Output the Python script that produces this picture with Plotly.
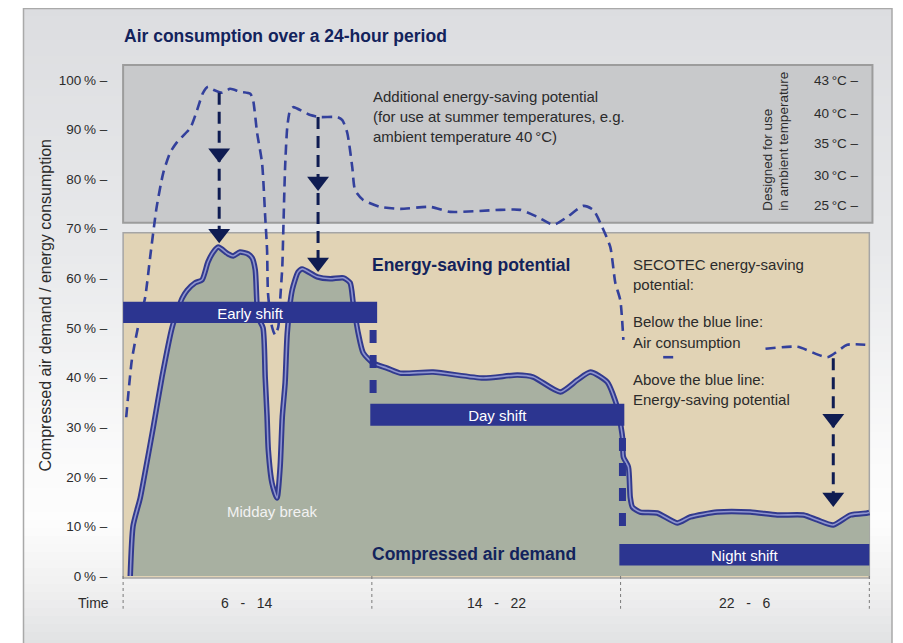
import plotly.graph_objects as go

# ---------------- data ----------------
hours_demand = [0.23, 0.32, 0.55, 0.68, 0.97, 1.25, 1.58, 1.90, 2.06, 2.32, 2.54, 2.73, 2.90, 3.06,
                3.38, 3.54, 3.76, 4.02, 4.15, 4.25, 4.34, 4.50, 4.57, 4.63, 4.67, 4.79, 4.95, 5.05,
                5.12, 5.21, 5.28, 5.44, 5.63, 5.76, 6.24, 6.66, 7.08, 7.30, 7.40, 7.56, 7.72, 8.04,
                8.49, 8.91, 9.97, 11.58, 12.68, 13.19, 14.06, 14.61, 15.03, 15.57, 15.89, 16.06,
                16.09, 16.25, 16.31, 16.38, 16.63, 17.18, 17.82, 18.24, 19.11, 20.17, 21.04, 21.88,
                22.33, 22.84, 23.39, 23.94, 24.0]
air_demand_pct = [0, 10.1, 15.7, 20.0, 30.0, 40.1, 50.2, 56.0, 57.6, 59.1, 59.7, 63.3, 65.3, 66.3,
                  64.9, 64.5, 65.3, 64.9, 64.1, 61.7, 52.2, 50.0, 40.1, 32.1, 25.4, 18.7, 15.7, 22.0,
                  32.1, 38.9, 49.0, 57.7, 61.3, 61.9, 60.3, 59.9, 60.1, 59.1, 55.0, 49.0, 45.0, 42.9,
                  41.9, 40.9, 41.1, 39.9, 40.5, 40.1, 37.1, 39.5, 41.1, 39.1, 34.1, 28.0,
                  24.0, 22.0, 15.9, 13.9, 12.9, 12.7, 10.7, 11.9, 12.9, 12.9, 12.3, 12.3,
                  11.3, 10.3, 12.3, 12.7, 12.8]

hours_40c = [0.10, 0.28, 0.48, 0.71, 0.87, 1.08, 1.29, 1.51, 1.74, 2.16, 2.38, 2.57, 2.73, 2.90,
             3.19, 3.44, 3.76, 4.09, 4.18, 4.31, 4.47, 4.57, 4.63, 4.66, 4.79, 4.89, 4.99, 5.05,
             5.12, 5.15, 5.21, 5.28, 5.37, 5.47, 6.02, 6.34, 6.89, 7.05, 7.21, 7.37, 7.46, 7.72,
             8.27, 8.91, 9.88, 10.52, 12.13, 12.77, 13.32, 13.84, 14.29, 14.80, 15.12, 15.41,
             15.67, 15.83, 15.99, 16.09, None, 17.37, 17.82, None, 20.66, 21.69, 22.65, 23.29, 23.87]
consumption_40c_pct = [32.0, 43.5, 50.2, 56.2, 64.3, 74.4, 81.2, 85.3, 87.5, 90.3, 93.9, 97.4, 98.6, 98.0,
                       97.4, 98.2, 97.6, 97.2, 95.9, 89.3, 83.2, 72.4, 65.7, 57.0, 50.2, 48.6, 50.2, 55.6,
                       62.3, 69.1, 82.4, 90.5, 93.9, 94.5, 92.9, 92.5, 92.5, 91.9, 89.3, 82.4, 77.8, 75.8,
                       74.4, 74.0, 74.4, 73.4, 73.8, 73.8, 72.4, 70.8, 72.4, 74.6, 73.8, 70.3,
                       66.3, 59.1, 55.6, 47.6, None, 44.1, 44.1, None, 45.8, 46.2, 44.1, 46.6, 46.6]

shift_names = ["Early shift", "Day shift", "Night shift"]
shift_start = [0.0, 7.95, 15.96]
shift_end = [8.17, 16.12, 24.0]
shift_bar_low = [51.0, 30.3, 2.1]
shift_bar_high = [55.3, 34.7, 6.45]

connector_hours = [8.04, 16.06]
connector_top = [49.6, 27.8]
connector_bottom = [36.1, 8.7]

time_separators = [0, 8, 16, 24]
time_label_hours = [4, 12, 20]
time_labels = ["6   -   14", "14   -   22", "22   -   6"]

arrow_hours = [3.09, 6.27, 22.84]
arrow_from = [97.4, 92.5, 43.9]
arrow_mid = [85.2, 79.5, 31.7]
arrow_to = [69.0, 63.2, 15.8]

y_ticks = [0, 10, 20, 30, 40, 50, 60, 70, 80, 90, 100]
y_tick_text = [f"{v}\u2009% –" for v in y_ticks]

temp_labels = ["43\u2009°C –", "40\u2009°C –", "35\u2009°C –", "30\u2009°C –", "25\u2009°C –"]
temp_pct = [99.8, 93.3, 87.1, 80.8, 74.6]

saving_zone = [71.2, 103.0]   # grey band (additional potential)
design_zone = [-0.4, 69.2]    # tan band

# ---------------- style ----------------
FONT = "Liberation Sans, Arial, sans-serif"
NAVY = "#13235c"
BAR = "#2c3590"
LINE = "#2e3a96"
ARROW = "#0f1c52"
TXT = "#2b2b2b"

OFF = 8                      # page body margin of the browser
W, H = 903 - OFF, 643 - OFF
PL, PR, PT, PB = 120, 874, 63, 610   # plot area in screen pixels


def px_x(px):
    return (px - PL) / (PR - PL)


def px_y(py):
    return (PB - py) / (PB - PT)


def hex2rgb(h):
    h = h.lstrip("#")
    return tuple(int(h[i:i + 2], 16) for i in (0, 2, 4))


stops = [(8, "#dcdde0"), (250, "#e8e9eb"), (450, "#fafafa"), (520, "#fdfdfd"), (585, "#f1f1f1"), (650, "#dfe0e2")]


def grad(py):
    for (a, ca), (b, cb) in zip(stops[:-1], stops[1:]):
        if a <= py <= b:
            t = (py - a) / (b - a)
            r1, g1, b1 = hex2rgb(ca)
            r2, g2, b2 = hex2rgb(cb)
            return "rgb(%d,%d,%d)" % (round(r1 + (r2 - r1) * t), round(g1 + (g2 - g1) * t), round(b1 + (b2 - b1) * t))
    return stops[-1][1]


shapes = []
band = 8
y = 8
while y < 650:
    shapes.append(dict(type="rect", xref="paper", yref="paper", layer="below",
                       x0=px_x(23), x1=px_x(892), y0=px_y(y + band + 0.5), y1=px_y(y),
                       fillcolor=grad(y + band / 2), line=dict(width=0)))
    y += band
shapes.append(dict(type="rect", xref="paper", yref="paper", layer="below",
                   x0=px_x(23.5), x1=px_x(892), y0=px_y(660), y1=px_y(8.5),
                   fillcolor="rgba(0,0,0,0)", line=dict(color="#a9a9a9", width=1.5)))
# grey and tan zones
shapes.append(dict(type="rect", xref="x", yref="y", layer="below",
                   x0=0, x1=24.1, y0=saving_zone[0], y1=saving_zone[1],
                   fillcolor="#c8c9cb", line=dict(color="#9c9c9c", width=2)))
shapes.append(dict(type="rect", xref="x", yref="y", layer="below",
                   x0=0, x1=24.0, y0=design_zone[0], y1=design_zone[1],
                   fillcolor="#e1d3b5", line=dict(color="#a5a5a5", width=1.5)))
# shift bars
for name, s0, s1, lo, hi in zip(shift_names, shift_start, shift_end, shift_bar_low, shift_bar_high):
    shapes.append(dict(type="rect", xref="x", yref="y", layer="above",
                       x0=s0, x1=s1, y0=lo, y1=hi, fillcolor=BAR, line=dict(width=0),
                       label=dict(text=name, font=dict(family=FONT, size=15, color="white"),
                                  textposition="middle center")))

fig = go.Figure()

# air demand area (double stroke)
fig.add_trace(go.Scatter(x=hours_demand, y=air_demand_pct, mode="lines", fill="tozeroy",
                         fillcolor="#a8b0a1", line=dict(color="#323a8e", width=5.5, shape="spline", smoothing=0.6),
                         hoverinfo="skip", showlegend=False))
fig.add_trace(go.Scatter(x=hours_demand, y=air_demand_pct, mode="lines",
                         line=dict(color="#8f95cf", width=1.6, shape="spline", smoothing=0.6),
                         hoverinfo="skip", showlegend=False))

# 40 °C consumption dashed
fig.add_trace(go.Scatter(x=hours_40c, y=consumption_40c_pct, mode="lines",
                         line=dict(color="#33409c", width=2.6, dash="10px,6px", shape="spline", smoothing=0.6),
                         hoverinfo="skip", showlegend=False))

# shift connectors
for hx, t, b in zip(connector_hours, connector_top, connector_bottom):
    fig.add_trace(go.Scatter(x=[hx, hx], y=[t, b], mode="lines",
                             line=dict(color=BAR, width=7, dash="13px,12px"),
                             hoverinfo="skip", showlegend=False))

# time separators
for hx in time_separators:
    fig.add_trace(go.Scatter(x=[hx, hx], y=[0, -6.6], mode="lines",
                             line=dict(color="#7a7a7a", width=1, dash="dot"),
                             hoverinfo="skip", showlegend=False))

# arrows
for hx, a, m, b in zip(arrow_hours, arrow_from, arrow_mid, arrow_to):
    fig.add_trace(go.Scatter(x=[hx, hx], y=[a, b], mode="lines",
                             line=dict(color=ARROW, width=3, dash="12px,7px"),
                             hoverinfo="skip", showlegend=False))
    fig.add_trace(go.Scatter(x=[hx, hx], y=[m, b], mode="markers",
                             marker=dict(symbol="triangle-down", size=19, color=ARROW, line=dict(width=0)),
                             hoverinfo="skip", showlegend=False))

ann = []


def A(text, x, y, size=15, color=TXT, xanchor="left", yanchor="middle", bold=False, xref="x", yref="y", angle=0):
    t = f"<b>{text}</b>" if bold else text
    ann.append(dict(text=t, x=x, y=y, xref=xref, yref=yref, showarrow=False, xanchor=xanchor,
                    yanchor=yanchor, textangle=angle, font=dict(family=FONT, size=size, color=color)))


A("Air consumption over a 24-hour period", px_x(122), px_y(36), size=17.5, color=NAVY, bold=True,
  xref="paper", yref="paper")
A("Compressed air demand / energy consumption", px_x(46), 54.5, size=16, color=TXT,
  xanchor="center", xref="paper", angle=-90)

for i, line in enumerate(["Additional energy-saving potential",
                          "(for use at summer temperatures, e.g.",
                          "ambient temperature 40\u2009°C)"]):
    A(line, 7.98, 96.6 - 4.05 * i)

A("Energy-saving potential", 7.95, 62.7, size=17.5, color=NAVY, bold=True)
A("Compressed air demand", 7.95, 4.4, size=17.5, color=NAVY, bold=True)
A("Midday break", 4.79, 13.1, size=15, color="#f2f2f2", xanchor="center")

for line, yy in zip(["SECOTEC energy-saving", "potential:", "Below the blue line:", "Air consumption",
                     "Above the blue line:", "Energy-saving potential"],
                    [62.7, 58.7, 51.2, 47.0, 39.7, 35.5]):
    A(line, 16.35, yy)

for lab, yy in zip(temp_labels, temp_pct):
    A(lab, 23.72, yy, size=13.5, xanchor="right")

A("Designed for use", 20.72, 73.3, size=13.5, angle=-90, xanchor="center", yanchor="bottom")
A("in ambient temperature", 21.25, 73.3, size=13.5, angle=-90, xanchor="center", yanchor="bottom")

A("Time", px_x(111), -5.5, size=14, xanchor="right", xref="paper")
for lab, hx in zip(time_labels, time_label_hours):
    A(lab, hx, -5.5, size=14, xanchor="center")

fig.update_layout(
    width=W, height=H,
    margin=dict(l=PL - OFF, r=W + OFF - PR, t=PT - OFF, b=H + OFF - PB, pad=0),
    paper_bgcolor="white", plot_bgcolor="rgba(0,0,0,0)",
    showlegend=False,
    shapes=shapes, annotations=ann,
    xaxis=dict(range=[-0.1, 24.15], visible=False, fixedrange=True),
    yaxis=dict(range=[-6.85, 103.4], tickvals=y_ticks, ticktext=y_tick_text, ticks="outside",
               ticklen=9, tickcolor="rgba(0,0,0,0)", showgrid=False, zeroline=False, showline=False,
               tickfont=dict(family=FONT, size=13.5, color=TXT), fixedrange=True),
)

fig.write_html("out.html")
